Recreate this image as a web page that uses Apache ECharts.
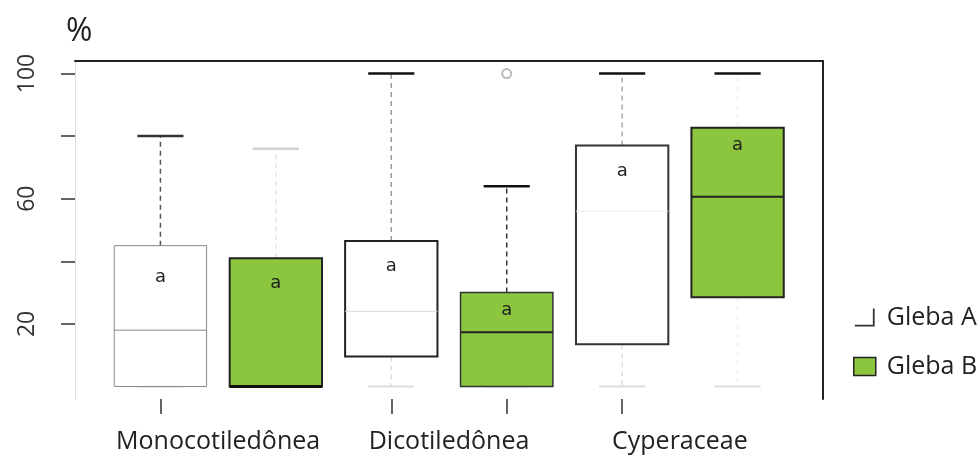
<!DOCTYPE html>
<html>
<head>
<meta charset="utf-8">
<script src="https://cdn.jsdelivr.net/npm/echarts@6/dist/echarts.min.js"></script>
<style>html,body{margin:0;padding:0;background:#fff}#c{width:977px;height:459px}</style>
</head>
<body>
<div id="c"></div>
<script>
// ---- data ----
const categories = ['Monocotiledônea', 'Dicotiledônea', 'Cyperaceae'];
const groups = ['Gleba A', 'Gleba B'];
// [lower whisker, Q1, median, Q3, upper whisker]
const glebaA = [[0, 0, 18, 45, 80], [0, 9.6, 24, 46.5, 100], [0, 13.5, 56, 77, 100]];
const glebaB = [[0, 0, 0, 41, 76], [0, 0, 17.3, 30, 64], [0, 28.5, 60.6, 82.7, 100]];
const lettersA = ['a', 'a', 'a'];
const lettersB = ['a', 'a', 'a'];
const letterValA = [35, 38.5, 68.6];
const letterValB = [33, 24.4, 77.2];
// outliers: [category index, group index, value]
const outliers = [[1, 1, 100]];
const yTicks = [20, 40, 60, 80, 100];
const yLabels = [20, 60, 100];

// ---- styles (not data) ----
const GREEN = '#8cc63e';
const stylesA = [
  {fill: '#fff', stroke: '#888', lw: 1, med: '#888', medW: 1, up: '#555', low: '#ddd', upCap: '#333', lowCap: '#ccc'},
  {fill: '#fff', stroke: '#222', lw: 2, med: '#d8d8d8', medW: 1, up: '#999', low: '#ddd', upCap: '#111', lowCap: '#ddd'},
  {fill: '#fff', stroke: '#333', lw: 2, med: '#eee', medW: 1, up: '#aaa', low: '#ddd', upCap: '#111', lowCap: '#ddd'}
];
const stylesB = [
  {fill: GREEN, stroke: '#222', lw: 2, med: '#111', medW: 3, up: '#e4e4e4', low: '#ddd', upCap: '#d0d0d0', lowCap: '#222'},
  {fill: GREEN, stroke: '#333', lw: 1.5, med: '#222', medW: 2, up: '#333', low: '#ddd', upCap: '#111', lowCap: '#ddd'},
  {fill: GREEN, stroke: '#222', lw: 2, med: '#222', medW: 2, up: '#eee', low: '#eee', upCap: '#111', lowCap: '#ddd'}
];

function buildData(stats, letterVals, gi) {
  return stats.map((s, ci) => [ci * 2 + gi + 1].concat(s).concat([letterVals[ci]]));
}

function makeRender(styles, letters) {
  return function (params, api) {
    const x = api.value(0);
    const low = api.value(1), q1 = api.value(2), med = api.value(3), q3 = api.value(4), high = api.value(5);
    const lv = api.value(6);
    const st = styles[params.dataIndex];
    const half = api.size([0.8, 0])[0] / 2;
    const capHalf = half / 2;
    const pLow = api.coord([x, low]), pQ1 = api.coord([x, q1]), pMed = api.coord([x, med]);
    const pQ3 = api.coord([x, q3]), pHigh = api.coord([x, high]), pL = api.coord([x, lv]);
    const cx = pQ1[0];
    const ch = [];
    if (q1 > low) {
      ch.push({type: 'line', shape: {x1: cx, y1: pQ1[1], x2: cx, y2: pLow[1]},
        style: {stroke: st.low, lineWidth: 1.5, lineDash: [5, 4]}});
    }
    ch.push({type: 'line', shape: {x1: cx - capHalf, y1: pLow[1], x2: cx + capHalf, y2: pLow[1]},
      style: {stroke: st.lowCap, lineWidth: 2}});
    ch.push({type: 'line', shape: {x1: cx, y1: pQ3[1], x2: cx, y2: pHigh[1]},
      style: {stroke: st.up, lineWidth: 1.5, lineDash: [5, 4]}});
    ch.push({type: 'line', shape: {x1: cx - capHalf, y1: pHigh[1], x2: cx + capHalf, y2: pHigh[1]},
      style: {stroke: st.upCap, lineWidth: 2.5}});
    ch.push({type: 'rect', shape: {x: cx - half, y: pQ3[1], width: half * 2, height: pQ1[1] - pQ3[1]},
      style: {fill: st.fill, stroke: st.stroke, lineWidth: st.lw}});
    ch.push({type: 'line', shape: {x1: cx - half, y1: pMed[1], x2: cx + half, y2: pMed[1]},
      style: {stroke: st.med, lineWidth: st.medW}});
    ch.push({type: 'text', style: {x: cx, y: pL[1], text: letters[params.dataIndex], fill: '#222',
      font: '18px "DejaVu Sans", sans-serif', align: 'center', verticalAlign: 'middle'}});
    return {type: 'group', children: ch};
  };
}

const chart = echarts.init(document.getElementById('c'));
chart.setOption({
  animation: false,
  backgroundColor: '#fff',
  title: {text: '%', left: 61, top: 11, textStyle: {fontSize: 32, fontWeight: 'normal', color: '#222', fontFamily: 'Open Sans'}},
  grid: {left: 75, right: 154, top: 61, bottom: 60},
  legend: {
    orient: 'vertical', left: 848, top: 300, itemGap: 24, itemWidth: 22, itemHeight: 18,
    selectedMode: false,
    textStyle: {fontSize: 25, fontFamily: 'Open Sans', color: '#222', lineHeight: 24, padding: [0, 0, 0, 6]},
    data: [
      {name: groups[0], icon: 'path://M0,18 L20,18 L20,0 L22,0 L22,20 L0,20 Z', itemStyle: {color: '#333'}},
      {name: groups[1], icon: 'rect', itemStyle: {color: GREEN, borderColor: '#222', borderWidth: 1.5}}
    ]
  },
  xAxis: [{
    type: 'value', min: 0.26, max: 6.74, position: 'bottom',
    splitLine: {show: false}, axisLine: {show: false, onZero: false},
    axisTick: {show: true, customValues: [1, 3, 4, 5], length: 15, lineStyle: {color: '#333', width: 1.5}},
    axisLabel: {
      customValues: categories.map((c, i) => i * 2 + 1.5), margin: 30,
      fontSize: 25, fontFamily: 'Open Sans', color: '#222',
      formatter: v => categories[Math.round((v - 1.5) / 2)]
    }
  }, {
    type: 'value', min: 0.26, max: 6.74, position: 'top',
    splitLine: {show: false}, axisTick: {show: false}, axisLabel: {show: false},
    axisLine: {show: true, onZero: false, lineStyle: {color: '#222', width: 2}}
  }],
  yAxis: [{
    type: 'value', min: -4, max: 104, position: 'left',
    splitLine: {show: false},
    axisLine: {show: true, onZero: false, lineStyle: {color: '#ddd', width: 1}},
    axisTick: {show: true, customValues: yTicks, length: 14, lineStyle: {color: '#333', width: 1.5}},
    axisLabel: {customValues: yLabels, rotate: 90, margin: 36, fontSize: 23, fontFamily: 'Open Sans', color: '#333'}
  }, {
    type: 'value', min: -4, max: 104, position: 'right',
    splitLine: {show: false}, axisTick: {show: false}, axisLabel: {show: false},
    axisLine: {show: true, onZero: false, lineStyle: {color: '#222', width: 2}}
  }],
  series: [
    {name: groups[0], type: 'custom', itemStyle: {color: '#333'}, renderItem: makeRender(stylesA, lettersA),
      data: buildData(glebaA, letterValA, 0)},
    {name: groups[1], type: 'custom', itemStyle: {color: GREEN}, renderItem: makeRender(stylesB, lettersB),
      data: buildData(glebaB, letterValB, 1)},
    {name: 'outliers', type: 'scatter', symbol: 'emptyCircle', symbolSize: 9,
      itemStyle: {color: '#aaa', borderWidth: 1.5},
      data: outliers.map(o => [o[0] * 2 + o[1] + 1, o[2]])}
  ]
});
</script>
</body>
</html>
